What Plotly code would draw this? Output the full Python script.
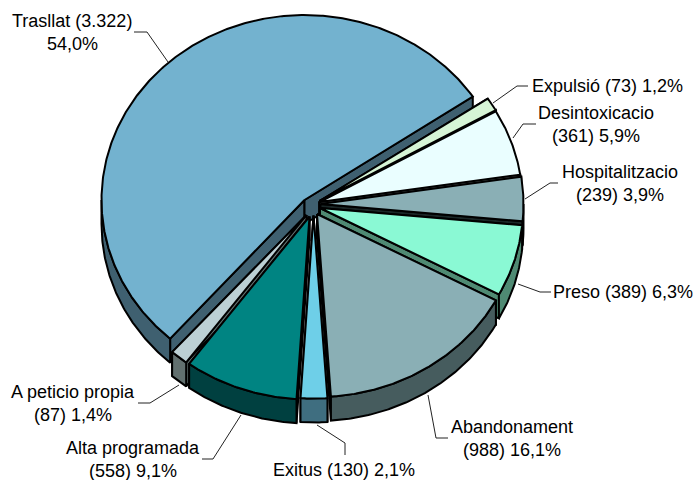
import numpy as np
import plotly.graph_objects as go

# ---- data (clockwise from the first slice) ----
names = ["Expulsió", "Desintoxicacio", "Hospitalitzacio", "Preso", "Abandonament",
         "Exitus", "Alta programada", "A peticio propia", "Trasllat"]
values = [73, 361, 239, 389, 988, 130, 558, 87, 3322]

# ---- style and layout ----
top_colors = ["#D6F5D6", "#EAFEFF", "#8AAFB5", "#8AF9D4", "#8AAFB5", "#6ECFE8", "#008482", "#BCD0D4", "#73B2CF"]
side_colors = ["#1A2A1A", "#C8D4D4", "#1A2626", "#4F8A73", "#465C5E", "#3F6E80", "#004040", "#62706F", "#3F6070"]
apex_x = [319.5, 319.5, 320.5, 320, 317, 313.5, 309.5, 306.5, 304.5]
apex_y = [201, 202, 204, 208, 214, 215.5, 216.5, 215, 200]
radius_y = [183, 183, 183, 183, 183, 183, 183, 183, 185]
draw_order = [8, 0, 1, 2, 3, 4, 7, 6, 5]
RX, DEPTH, ROTATION = 203, 24, 56

label_pos = [
    [(530, 86, "left")],
    [(596, 113, "center"), (596, 136, "center")],
    [(620, 172, "center"), (620, 195, "center")],
    [(551, 292, "left")],
    [(512, 427, "center"), (512, 450, "center")],
    [(344, 470, "center")],
    [(133, 448, "center"), (133, 471, "center")],
    [(73, 392, "center"), (73, 415, "center")],
    [(72, 21, "center"), (72, 44, "center")],
]
leaders = [
    [(493, 103), (517, 86), (528, 86)],
    [(513, 138), (523, 124), (536, 124)],
    [(525, 199), (550, 183), (558, 183)],
    [(518, 284), (540, 292), (551, 292)],
    [(428, 395), (436, 438), (448, 438)],
    [(317, 425), (345, 443), (345, 455)],
    [(241, 415), (213, 459), (202, 459)],
    [(179, 385), (150, 403), (138, 403)],
    [(168, 62), (147, 32), (134, 32)],
]

total = sum(values)
spans = [v / total * 360 for v in values]
starts = ROTATION + np.concatenate([[0], np.cumsum(spans)[:-1]])


def arc(i, t0, t1):
    ts = np.radians(np.linspace(t0, t1, max(3, int(abs(t1 - t0)) * 2)))
    return apex_x[i] + RX * np.sin(ts), apex_y[i] - radius_y[i] * np.cos(ts)


def poly(fig, xs, ys, fill, name):
    fig.add_trace(go.Scatter(
        x=list(xs) + [xs[0]], y=list(ys) + [ys[0]], mode="lines", fill="toself",
        fillcolor=fill, line=dict(color="black", width=2), name=name, hoverinfo="name",
        showlegend=False))


fig = go.Figure()
for i in draw_order:
    t0, t1 = starts[i], starts[i] + spans[i]
    side, top = side_colors[i], top_colors[i]
    for t in (t0, t1):
        ax, ay = apex_x[i], apex_y[i]
        ex, ey = arc(i, t, t)
        ex, ey = ex[0], ey[0]
        poly(fig, [ax, ex, ex, ax], [ay, ey, ey + DEPTH, ay + DEPTH], side, names[i])
    for lo, hi in ((90, 270), (450, 630)):
        a, b = max(t0, lo), min(t1, hi)
        if b > a:
            x, y = arc(i, a, b)
            poly(fig, np.r_[x, x[::-1]], np.r_[y, y[::-1] + DEPTH], side, names[i])
    x, y = arc(i, t0, t1)
    poly(fig, np.r_[apex_x[i], x], np.r_[apex_y[i], y], top, names[i])

for pts in leaders:
    fig.add_trace(go.Scatter(x=[p[0] for p in pts], y=[p[1] for p in pts], mode="lines",
                             line=dict(color="#222222", width=1), hoverinfo="skip", showlegend=False))

annotations = []
for i, pos in enumerate(label_pos):
    num = f"{values[i]:,}".replace(",", ".")
    pct = f"{values[i] / total * 100:.1f}".replace(".", ",") + "%"
    if len(pos) == 1:
        lines = [f"{names[i]} ({num}) {pct}"]
    elif names[i] == "Trasllat":
        lines = [f"{names[i]} ({num})", pct]
    else:
        lines = [names[i], f"({num}) {pct}"]
    for (lx, ly, anc), txt in zip(pos, lines):
        annotations.append(dict(x=lx, y=ly, xref="x", yref="y", text=txt, showarrow=False,
                                xanchor=anc, yanchor="middle",
                                font=dict(family="Liberation Sans, Arial, sans-serif", size=18, color="black")))

fig.update_layout(
    width=693, height=480, margin=dict(l=0, r=0, t=0, b=0),
    paper_bgcolor="white", plot_bgcolor="white", showlegend=False, annotations=annotations,
    xaxis=dict(range=[0, 693], visible=False, fixedrange=True),
    yaxis=dict(range=[480, 0], visible=False, fixedrange=True),
)
fig.write_html("out.html", config=dict(displayModeBar=False),
               post_script="document.body.style.margin='0';document.body.style.overflow='hidden';")
